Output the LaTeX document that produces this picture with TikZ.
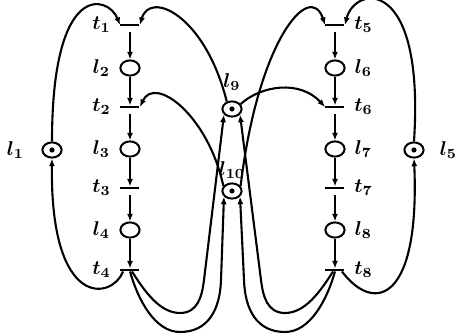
\documentclass[tikz,border=0pt]{standalone}
\usepackage{amsmath}
\usetikzlibrary{arrows.meta,positioning,shapes.geometric}

\tikzset{
  place/.style={draw, ellipse, line width=1pt, minimum width=9.6pt, minimum height=7.6pt, inner sep=0pt},
  marked/.style={place, path picture={\fill (path picture bounding box.center) circle (1.3pt);}},
  trans/.style={fill, rectangle, minimum width=9.5pt, minimum height=1.1pt, inner sep=0pt},
  lab/.style={inner sep=0.5pt},
  flow/.style={line width=1.05pt, -{Latex[length=3.8pt,width=3pt]}},
}

\begin{document}
\begin{tikzpicture}[x=0.5pt, y=-0.5pt, font=\normalsize]
        \useasboundingbox (0,0) rectangle (457,336);
        % the two columns
        \foreach \i/\x/\y in {1/130/25, 2/130/107, 3/130/188, 4/130/270}{
          \node[trans] (t\i) at (\x,\y) {};
          \node[lab, left=4pt of t\i] (tl\i) {$\boldsymbol{t_{\i}}$};
        }
        \foreach \i/\x/\y in {5/335/25, 6/335/107, 7/335/188, 8/335/270}{
          \node[trans] (t\i) at (\x,\y) {};
          \node[lab, right=4pt of t\i] (tl\i) {$\boldsymbol{t_{\i}}$};
        }
        \foreach \i/\x/\y in {2/130/68, 3/130/149, 4/130/230}{
          \node[place] (l\i) at (\x,\y) {};
          \node[lab, left=4pt of l\i] (ll\i) {$\boldsymbol{l_{\i}}$};
        }
        \foreach \i/\x/\y in {6/335/68, 7/335/149, 8/335/230}{
          \node[place] (l\i) at (\x,\y) {};
          \node[lab, right=4pt of l\i] (ll\i) {$\boldsymbol{l_{\i}}$};
        }
        % marked places
        \node[marked] (l1) at (52,150) {};
        \node[marked] (l5) at (414,150) {};
        \node[marked] (l9) at (232,109) {};
        \node[marked] (l10) at (232,191) {};
        \node[lab, left=8pt of l1] (ll1) {$\boldsymbol{l_{1}}$};
        \node[lab, right=7pt of l5] (ll5) {$\boldsymbol{l_{5}}$};
        \node[lab, above=4pt of l9] (ll9) {$\boldsymbol{l_{9}}$};
        \node[lab, above=1pt of l10] (ll10) {$\boldsymbol{l_{10}}$};
        % straight arcs
        \foreach \i/\j in {1/2, 2/3, 3/4, 5/6, 6/7, 7/8}
          \draw[flow, shorten <=3pt] (t\i) -- (l\j);
        \foreach \i in {2,3,4,6,7,8}
          \draw[flow] (l\i) -- (t\i);
        % upper arcs
        \draw[flow] (l1.north) .. controls (52,-20) and (108,-5) .. (t1.west);
        \draw[flow] (l9.125) .. controls (205,15) and (150,-10) .. (t1.east);
        \draw[flow] (l10.150) .. controls (208,115) and (155,75) .. (t2.east);
        \draw[flow] (l10.30) .. controls (258,40) and (310,-20) .. (t5.west);
        \draw[flow] (l9.30) .. controls (262,85) and (300,80) .. (t6.west);
        \draw[flow] (l5.north) .. controls (425,-25) and (355,-15) .. (t5.east);
        % lower arcs
        \draw[flow] ([xshift=1.5pt]t4.south west) .. controls (112,300) and (50,310) .. (l1.south);
        \draw[flow] ([xshift=-1.5pt]t8.south east) .. controls (375,315) and (420,300) .. (l5.south);
        \draw[flow] ([xshift=1pt]t4.south) .. controls (145,292) and (160,313) .. (180,313)
          .. controls (198,313) and (202,296) .. (204,280) -- (l9.215);
        \draw[flow] (t4.south) .. controls (138,300) and (155,332) .. (180,332)
          .. controls (208,332) and (220,310) .. (221,280) -- (l10.215);
        \draw[flow] ([xshift=-1pt]t8.south) .. controls (320,292) and (305,313) .. (285,313)
          .. controls (267,313) and (263,296) .. (261,280) -- (l9.325);
        \draw[flow] (t8.south) .. controls (327,300) and (310,332) .. (285,332)
          .. controls (257,332) and (245,310) .. (244,280) -- (l10.325);
      \end{tikzpicture}
\end{document}
